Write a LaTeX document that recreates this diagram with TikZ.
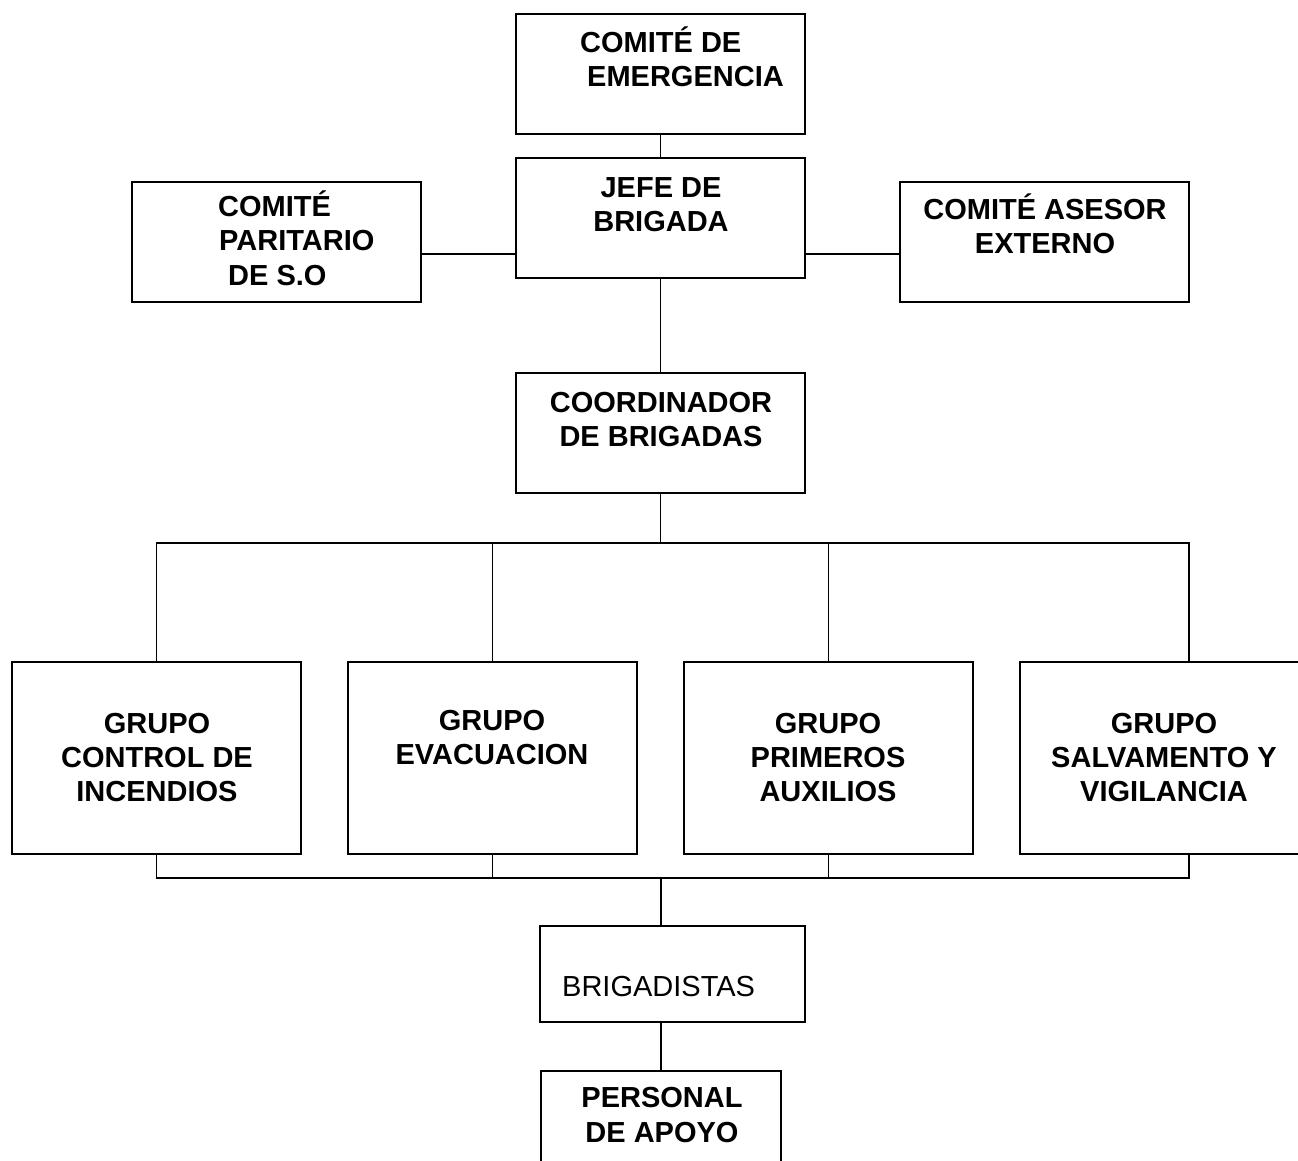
\documentclass[tikz,border=0pt]{standalone}
\usepackage{fontspec}
\setmainfont{Liberation Sans}
\begin{document}
\begin{tikzpicture}[x=1pt,y=-1pt,
  box/.style={draw=black,line width=1.8pt,rectangle,inner sep=0pt,minimum width=289pt,minimum height=120pt},
  lbl/.style={inner sep=0pt,font=\fontsize{29}{34}\selectfont\bfseries,anchor=base},
  lbll/.style={lbl,anchor=base west},
  conn/.style={line width=1.8pt}]
\useasboundingbox (0,0) rectangle (1298,1161);
\clip (0,0) rectangle (1298,1161);
% boxes
\node[box] (ce) at (660.5,74) {};
\node[box] (jb) at (660.5,218) {};
\node[box] (cp) at (276.5,242) {};
\node[box] (ca) at (1044.5,242) {};
\node[box] (cb) at (660.5,433) {};
\node[box,minimum height=192pt] (g1) at (156.5,758) {};
\node[box,minimum height=192pt] (g2) at (492.5,758) {};
\node[box,minimum height=192pt] (g3) at (828.5,758) {};
\node[box,minimum height=192pt] (g4) at (1164.5,758) {};
\node[box,minimum width=265pt,minimum height=96pt] (br) at (672.5,974) {};
\node[box,minimum width=240pt,minimum height=120pt] (pa) at (661,1131) {};
% helper coordinates
\coordinate (hl) at (0,254);
\coordinate (bt) at (1189,543);
\coordinate (bb) at (1189,878);
\coordinate (mb) at (661,878);
% connectors
\draw[conn] (ce.south) -- (jb.north);
\draw[conn] (cp.east |- hl) -- (jb.west |- hl);
\draw[conn] (jb.east |- hl) -- (ca.west |- hl);
\draw[conn] (jb.south) -- (cb.north);
\draw[conn] (cb.south) -- (cb.south |- bt);
\draw[conn] (g1.north) |- (bt) -- (bt |- g4.north);
\draw[conn] (g2.north) -- (g2.north |- bt);
\draw[conn] (g3.north) -- (g3.north |- bt);
\draw[conn] (g1.south) |- (bb) -- (bb |- g4.south);
\draw[conn] (g2.south) -- (g2.south |- bb);
\draw[conn] (g3.south) -- (g3.south |- bb);
\draw[conn] (mb) -- (mb |- br.north);
\draw[conn] (br.south -| pa.north) -- (pa.north);
% texts
\node[lbll] (t1a) at (580,53) {COMITÉ DE};
\node[lbll] (t1b) at (587,87) {EMERGENCIA};
\node[lbl] (t2a) at (661,197) {JEFE DE};
\node[lbl] (t2b) at (661,231) {BRIGADA};
\node[lbll] (t3a) at (218,217) {COMITÉ};
\node[lbll] (t3b) at (219,251) {PARITARIO};
\node[lbll] (t3c) at (228,285) {DE S.O};
\node[lbl] (t4a) at (1045,219) {COMITÉ ASESOR};
\node[lbl] (t4b) at (1045,253) {EXTERNO};
\node[lbl] (t5a) at (661,412) {COORDINADOR};
\node[lbl] (t5b) at (661,446) {DE BRIGADAS};
\node[lbl] (t6a) at (157,733) {GRUPO};
\node[lbl] (t6b) at (157,767) {CONTROL DE};
\node[lbl] (t6c) at (157,801) {INCENDIOS};
\node[lbl] (t7a) at (492,730) {GRUPO};
\node[lbl] (t7b) at (492,764) {EVACUACION};
\node[lbl] (t8a) at (828,733) {GRUPO};
\node[lbl] (t8b) at (828,767) {PRIMEROS};
\node[lbl] (t8c) at (828,801) {AUXILIOS};
\node[lbl] (t9a) at (1164,733) {GRUPO};
\node[lbl] (t9b) at (1164,767) {SALVAMENTO Y};
\node[lbl] (t9c) at (1164,801) {VIGILANCIA};
\node[inner sep=0pt,font=\fontsize{29}{34}\selectfont,anchor=base west] (t10) at (562,996) {BRIGADISTAS};
\node[lbl] (t11a) at (662,1107) {PERSONAL};
\node[lbl] (t11b) at (662,1142) {DE APOYO};
\end{tikzpicture}
\end{document}
